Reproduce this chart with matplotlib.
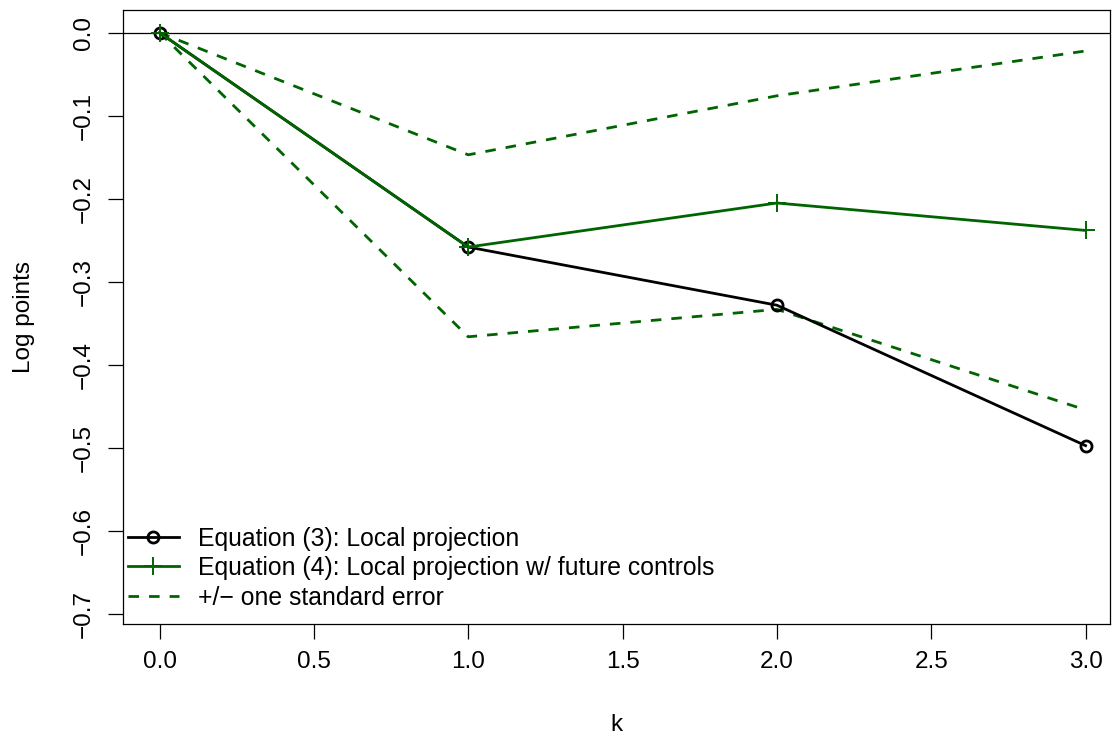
import matplotlib
matplotlib.use("Agg")
import matplotlib.pyplot as plt
from matplotlib.ticker import FixedLocator, FuncFormatter

plt.rcParams['font.family'] = ['Liberation Sans', 'DejaVu Sans']

# Horizon k and estimated responses (log points)
k = [0, 1, 2, 3]
eq3_local = [0.0, -0.258, -0.328, -0.497]
eq4_future = [0.0, -0.258, -0.205, -0.238]
se_upper = [0.0, -0.147, -0.076, -0.022]
se_lower = [0.0, -0.366, -0.333, -0.454]

x_ticks = [0.0, 0.5, 1.0, 1.5, 2.0, 2.5, 3.0]
y_ticks = [0.0, -0.1, -0.2, -0.3, -0.4, -0.5, -0.6, -0.7]

labels = ["Equation (3): Local projection",
          "Equation (4): Local projection w/ future controls",
          "+/\u2212 one standard error"]

green = "#006400"
fs = 17.5


def fmt(v, pos):
    s = "%.1f" % abs(v)
    return ("\u2212" + s) if v < -1e-9 else s


fig = plt.figure(figsize=(11.12, 7.40), dpi=100)
ax = fig.add_axes([0.1103, 0.1564, 0.8877, 0.8301])

ax.axhline(0, color="black", lw=0.9, zorder=1)

dash = (0, (3.8, 3.6))
ax.plot(k, se_upper, color=green, lw=2, linestyle=dash, zorder=2)
ax.plot(k, se_lower, color=green, lw=2, linestyle=dash, zorder=2,
        label=labels[2])
ax.plot(k, eq3_local, color="black", lw=2, marker="o", ms=8,
        mfc="none", mec="black", mew=2, zorder=3, label=labels[0])
ax.plot(k, eq4_future, color=green, lw=2, marker="+", ms=13,
        mew=1.4, zorder=4, label=labels[1])

ax.set_xlim(-0.1195, 3.0785)
ax.set_ylim(-0.712, 0.0273)

ax.xaxis.set_major_locator(FixedLocator(x_ticks))
ax.yaxis.set_major_locator(FixedLocator(y_ticks))
ax.xaxis.set_major_formatter(FuncFormatter(fmt))
ax.yaxis.set_major_formatter(FuncFormatter(fmt))

ax.tick_params(axis="both", direction="out", length=11, width=0.9,
               labelsize=fs, color="black")
ax.tick_params(axis="x", pad=8)
ax.tick_params(axis="y", pad=9)
for lab in ax.get_yticklabels():
    lab.set_rotation(90)
    lab.set_va("center")

for sp in ax.spines.values():
    sp.set_linewidth(0.9)
    sp.set_color("black")

ax.set_xlabel("k", fontsize=fs, labelpad=30)
ax.set_ylabel("Log points", fontsize=fs, labelpad=27)

h, l = ax.get_legend_handles_labels()
order = [l.index(s) for s in labels]
ax.legend([h[i] for i in order], [l[i] for i in order],
          loc="lower left", bbox_to_anchor=(0.005, 0.024), frameon=False,
          fontsize=17.8, handlelength=2.06, handletextpad=0.78,
          labelspacing=0.22, borderaxespad=0.0, borderpad=0.0)

fig.savefig("out.png", dpi=100)
